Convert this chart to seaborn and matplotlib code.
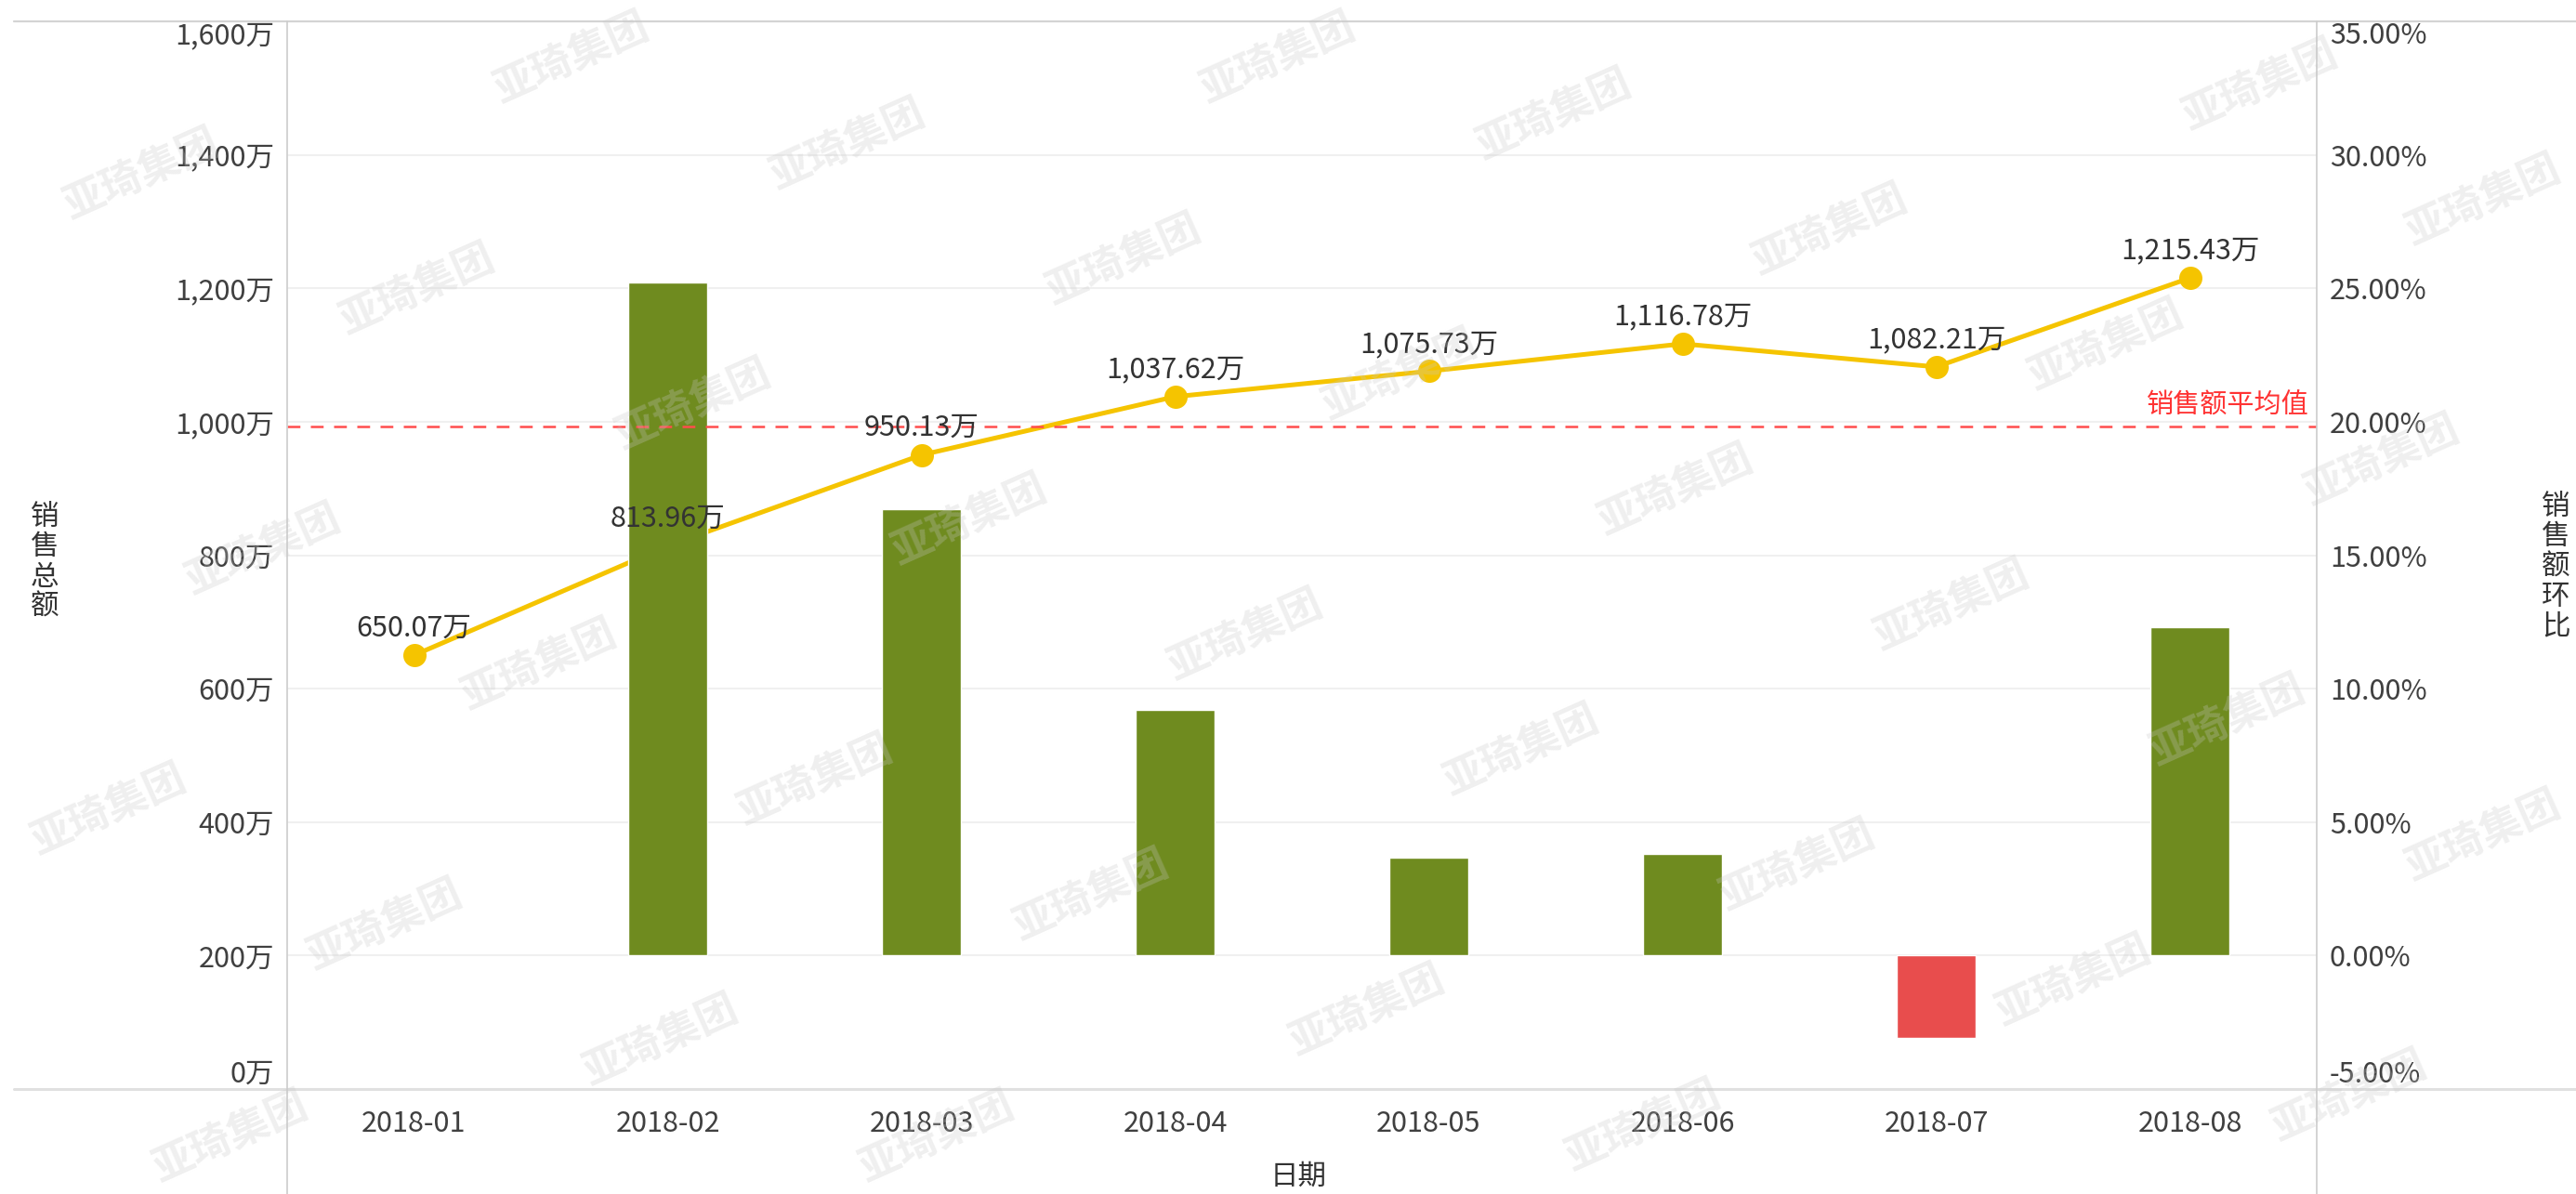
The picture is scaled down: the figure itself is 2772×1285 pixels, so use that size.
import numpy as np
import pandas as pd
import matplotlib
matplotlib.use("Agg")
import matplotlib.pyplot as plt
from matplotlib.lines import Line2D
import seaborn as sns

# 数据
months = ["2018-01", "2018-02", "2018-03", "2018-04", "2018-05", "2018-06", "2018-07", "2018-08"]
sales = [650.07, 813.96, 950.13, 1037.62, 1075.73, 1116.78, 1082.21, 1215.43]   # 万
mom = [None, 25.21, 16.73, 9.21, 3.67, 3.82, -3.10, 12.31]                       # %

left_ticks = [0, 200, 400, 600, 800, 1000, 1200, 1400, 1600]
right_ticks = [-5, 0, 5, 10, 15, 20, 25, 30, 35]

W, H = 2772, 1285
GREEN = "#6f8b1f"
RED = "#e84d4d"
YELLOW = "#f5c400"
TXT = "#404040"

sns.set_style("white")
plt.rcParams["font.family"] = ["Noto Sans CJK SC", "DejaVu Sans"]

df = pd.DataFrame({"月份": months, "销售总额": sales, "环比": mom})
avg = df["销售总额"].mean()

fig = plt.figure(figsize=(W / 100, H / 100), dpi=100)
ax = fig.add_axes([309 / W, 1 - 1172 / H, (2493 - 309) / W, (1172 - 23) / H])
ax2 = ax.twinx()

# 折线：销售总额
sns.lineplot(data=df, x="月份", y="销售总额", ax=ax, sort=False, color=YELLOW,
             linewidth=3.6, marker="o", markersize=18, markeredgewidth=0)

# 柱子：环比
bar_df = df.dropna(subset=["环比"])
pal = {m: (GREEN if v >= 0 else RED) for m, v in zip(bar_df["月份"], bar_df["环比"])}
sns.barplot(data=bar_df, x="月份", y="环比", hue="月份", palette=pal, legend=False,
            ax=ax2, width=0.31, order=months, saturation=1)

ax.set_xlim(-0.5, len(months) - 0.5)
ax.set_ylim(0, 1600)
ax2.set_ylim(-5, 35)

# 平均值虚线
ax2.plot([-0.5, len(months) - 0.5], [avg, avg], transform=ax.transData,
         color="#ff4d4d", lw=1.8, ls=(0, (5.5, 4.5)), zorder=5)
ax2.annotate("销售额平均值", xy=(len(months) - 0.5, avg), xycoords=ax.transData,
             xytext=(-6, 16), textcoords="offset points", ha="right", va="center",
             color="#ff3333", fontsize=21, zorder=6)

# 数据标签
for i, v in enumerate(sales):
    ax2.annotate(f"{v:,.2f}万", xy=(i, v), xycoords=ax.transData,
                 xytext=(0, 21), textcoords="offset points", ha="center", va="center",
                 color="#333333", fontsize=22, zorder=7)

# 刻度
ax.set_yticks(left_ticks)
ax.set_yticklabels([f"{v:,}万" for v in left_ticks])
ax2.set_yticks(right_ticks)
ax2.set_yticklabels([f"{v:.2f}%" for v in right_ticks])
ax.set_xticks(range(len(months)))
ax.set_xticklabels(months)
ax.tick_params(axis="y", length=0, pad=10, labelsize=22, labelcolor=TXT)
ax.tick_params(axis="x", length=0, pad=16, labelsize=22, labelcolor=TXT)
ax2.tick_params(axis="y", length=0, pad=10, labelsize=22, labelcolor=TXT)
ylabs = ax.get_yticklabels()
ylabs[0].set_va("bottom")
ylabs[-1].set_va("top")
rlabs = ax2.get_yticklabels()
rlabs[0].set_va("bottom")
rlabs[-1].set_va("top")

ax.set_xlabel("")
ax.set_ylabel("")
ax2.set_ylabel("")
ax.grid(axis="y", color="#f0f0f0", lw=1.5)
for a in (ax, ax2):
    for s in a.spines.values():
        s.set_visible(False)

# 外框线
y_top = 1 - 23 / H
y_bot = 1 - 1172 / H
fig.add_artist(Line2D([15 / W, 1], [y_top, y_top], color="#d4d4d4", lw=1.6))
fig.add_artist(Line2D([15 / W, 1], [y_bot, y_bot], color="#e0e0e0", lw=2.2))
fig.add_artist(Line2D([309 / W, 309 / W], [0, y_top], color="#cccccc", lw=1.2))
fig.add_artist(Line2D([2493 / W, 2493 / W], [0, y_top], color="#cccccc", lw=1.2))

# 轴标题
fig.text(48 / W, 1 - 605 / H, "销\n售\n总\n额", ha="center", va="center",
         fontsize=22, linespacing=1.05, color="#333333")
fig.text(2735 / W, 1 - 610 / H, "销\n售\n额\n环\n比", ha="left", va="center",
         fontsize=22, linespacing=1.05, color="#333333")
fig.text(1397 / W, 1 - 1266 / H, "日期", ha="center", va="center",
         fontsize=22, color="#333333")

# 水印（靠边的往里挪一点，太远的不画）
origin = np.array([152.0, 187.0])
va_ = np.array([297.0, 124.0])
vb_ = np.array([463.0, -156.0])
mx, my = 100, 62
for i in range(-12, 14):
    for j in range(-8, 10):
        p = origin + i * va_ + j * vb_
        q = np.array([min(max(p[0], mx), W - mx), min(max(p[1], my), H - my)])
        if np.abs(q - p).max() > 70:
            continue
        fig.text(q[0] / W, 1 - q[1] / H, "亚琦集团", rotation=24, fontsize=32,
                 weight="bold", color="#c8c8c8", alpha=0.28,
                 ha="center", va="center", zorder=20)

fig.savefig("out.png", dpi=100)
